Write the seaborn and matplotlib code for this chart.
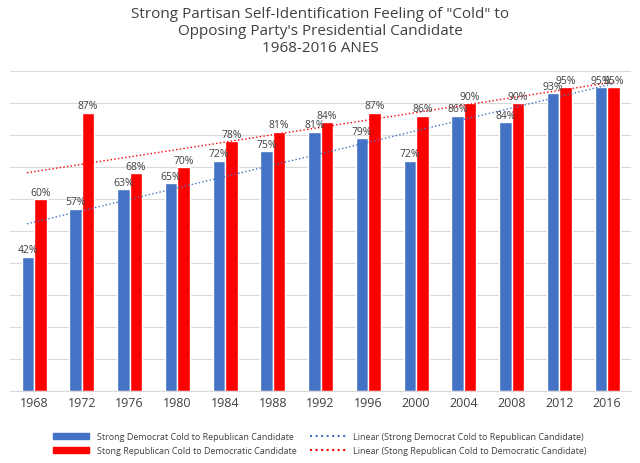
import pandas as pd
import numpy as np
import seaborn as sns
import matplotlib.pyplot as plt
from matplotlib.lines import Line2D
from matplotlib.patches import Patch

years = ['1968', '1972', '1976', '1980', '1984', '1988', '1992', '1996', '2000', '2004', '2008', '2012', '2016']
dem = [42, 57, 63, 65, 72, 75, 81, 79, 72, 86, 84, 93, 95]
rep = [60, 87, 68, 70, 78, 81, 84, 87, 86, 90, 90, 95, 95]
dem_name = 'Strong Democrat Cold to Republican Candidate'
rep_name = 'Stong Republican Cold to Democratic Candidate'

df = pd.DataFrame({'year': years * 2, 'value': dem + rep,
                   'group': [dem_name] * len(years) + [rep_name] * len(years)})

sns.set_style('white')
plt.rcParams['font.family'] = ['Open Sans', 'DejaVu Sans']
fig = plt.figure(figsize=(6.4, 4.64), dpi=100)
ax = fig.add_axes([0.016, 0.155, 0.97, 0.69])

blue, red = '#4472C4', '#FF0000'
sns.barplot(data=df, x='year', y='value', hue='group', palette=[blue, red],
            width=0.52, saturation=1, ax=ax, legend=False)
for c in ax.containers:
    ax.bar_label(c, labels=[f'{int(v)}%' for v in c.datavalues], fontsize=7.5, color='#404040', padding=1)

# linear trendlines
x = np.arange(len(years))
for vals, col in [(dem, blue), (rep, red)]:
    k, b = np.polyfit(x, vals, 1)
    xs = np.array([-0.15, len(years) - 0.85])
    ax.plot(xs, k * xs + b, ls=':', color=col, lw=1.0)

ax.set_ylim(0, 100)
ax.set_xlim(-0.5, len(years) - 0.5)
ax.set_yticks(range(0, 101, 10))
ax.set_yticklabels([])
ax.yaxis.grid(True, color='#d9d9d9', lw=0.8)
ax.set_axisbelow(True)
for s in ['top', 'right', 'left']:
    ax.spines[s].set_visible(False)
ax.spines['bottom'].set_color('#d9d9d9')
ax.tick_params(axis='x', labelsize=9, colors='#404040', length=0)
ax.tick_params(axis='y', length=0)
ax.set_xlabel('')
ax.set_ylabel('')

fig.suptitle('Strong Partisan Self-Identification Feeling of "Cold" to\nOpposing Party\'s Presidential Candidate\n1968-2016 ANES',
             y=0.985, fontsize=11, color='#404040', linespacing=1.2)

handles = [Patch(color=blue), Patch(color=red),
           Line2D([], [], color=blue, ls=':'), Line2D([], [], color=red, ls=':')]
labels = [dem_name, rep_name, f'Linear ({dem_name})', f'Linear ({rep_name})']
fig.legend(handles, labels, loc='lower center', ncol=2, frameon=False, fontsize=6.5,
           bbox_to_anchor=(0.5, 0.0), handlelength=4, columnspacing=1.5, labelcolor='#404040')
fig.savefig('out.png', dpi=100)
